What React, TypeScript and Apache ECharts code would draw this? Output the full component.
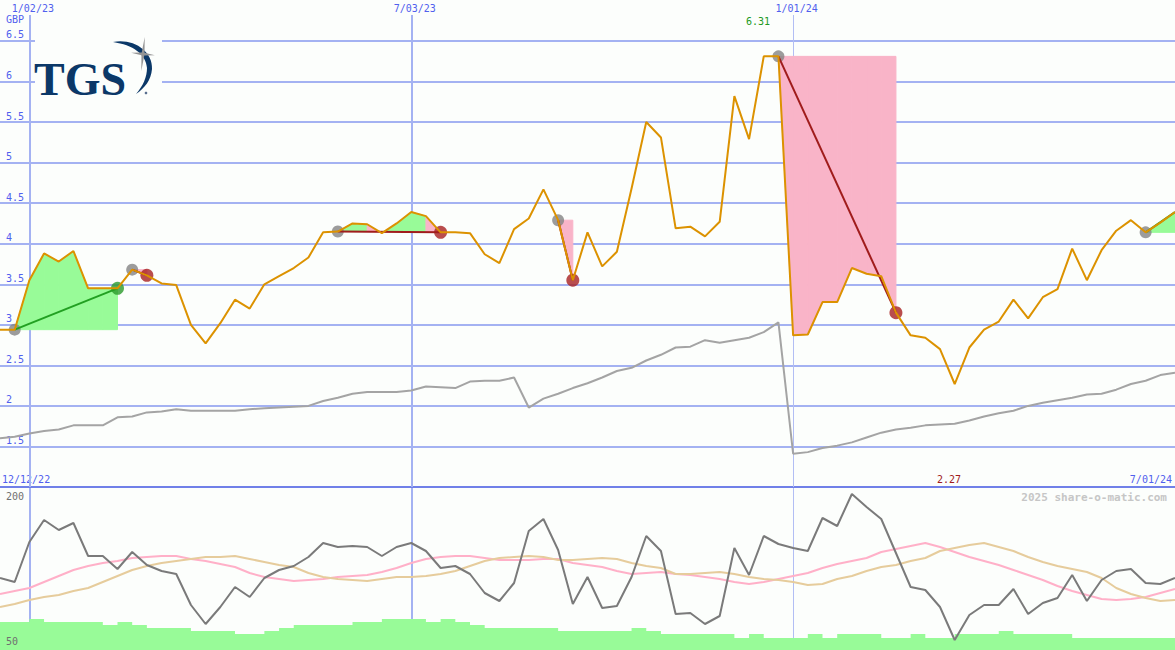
import React, { useEffect, useRef } from "react";
import * as echarts from "echarts";

// ---------- data ----------
const startDate = Date.UTC(2022, 11, 19);
const weekCount = 81;
const dates: string[] = Array.from({ length: weekCount }, (_, i) => {
  const d = new Date(startDate + i * 7 * 86400000);
  return `${d.getUTCMonth() + 1}/${String(d.getUTCDate()).padStart(2, "0")}/${String(d.getUTCFullYear()).slice(2)}`;
});
const topLabelIdx = [2, 28, 54];

const price = [
  2.94, 2.94, 3.55, 3.88, 3.78, 3.91, 3.45, 3.45, 3.45, 3.68,
  3.61, 3.51, 3.49, 3.0, 2.77, 3.02, 3.31, 3.2, 3.5, 3.6,
  3.7, 3.83, 4.14, 4.15, 4.25, 4.24, 4.13, 4.25, 4.39, 4.34,
  4.14, 4.14, 4.13, 3.87, 3.76, 4.18, 4.31, 4.67, 4.29, 3.55,
  4.14, 3.72, 3.9, 4.68, 5.5, 5.31, 4.19, 4.21, 4.09, 4.27,
  5.82, 5.29, 6.31, 6.31, 2.87, 2.88, 3.28, 3.28, 3.7, 3.63,
  3.6, 3.15, 2.87, 2.84, 2.7, 2.27, 2.72, 2.94, 3.04, 3.31,
  3.08, 3.34, 3.44, 3.94, 3.55, 3.92, 4.16, 4.29, 4.14, 4.26,
  4.39,
];

const benchmark = [
  1.6, 1.62, 1.66, 1.69, 1.71, 1.76, 1.76, 1.76, 1.86, 1.87,
  1.92, 1.93, 1.96, 1.94, 1.94, 1.94, 1.94, 1.96, 1.97, 1.98,
  1.99, 2.0, 2.06, 2.1, 2.15, 2.17, 2.17, 2.17, 2.19, 2.24,
  2.23, 2.22, 2.3, 2.31, 2.31, 2.35, 1.98, 2.09, 2.15, 2.22,
  2.28, 2.35, 2.43, 2.47, 2.56, 2.63, 2.72, 2.73, 2.81, 2.78,
  2.81, 2.84, 2.91, 3.03, 1.41, 1.43, 1.48, 1.51, 1.55, 1.61,
  1.67, 1.71, 1.73, 1.76, 1.77, 1.78, 1.82, 1.87, 1.91, 1.94,
  2.0, 2.04, 2.07, 2.1, 2.14, 2.15, 2.2, 2.27, 2.31, 2.38,
  2.41,
];

const oscillator = [
  112, 108, 148, 170, 160, 167, 134, 134, 121, 138,
  125, 119, 116, 85, 66, 83, 103, 93, 112, 120,
  124, 133, 147, 143, 144, 143, 134, 143, 147, 139,
  122, 124, 116, 97, 89, 107, 159, 171, 140, 86,
  113, 82, 84, 113, 154, 139, 76, 77, 66, 74,
  142, 115, 154, 146, 142, 139, 172, 164, 196, 183,
  171, 137, 103, 100, 83, 50, 75, 85, 85, 101,
  76, 87, 92, 115, 89, 110, 119, 121, 107, 106,
  112,
];

const pinkAverage = [
  96, 99, 102, 108, 114, 120, 124, 127, 129, 132,
  133, 134, 134, 131, 129, 126, 123, 117, 113, 111,
  109, 110, 111, 113, 114, 115, 118, 122, 127, 131,
  133, 134, 134, 132, 130, 130, 130, 131, 131, 127,
  125, 123, 119, 116, 117, 118, 116, 115, 113, 111,
  108, 106, 108, 111, 114, 117, 122, 126, 129, 132,
  138, 141, 144, 147, 143, 138, 133, 129, 125, 120,
  115, 110, 104, 99, 95, 91, 90, 91, 93, 97,
  101,
];

const tanAverage = [
  83, 86, 90, 93, 95, 99, 102, 108, 114, 120,
  124, 127, 129, 131, 133, 133, 134, 131, 128, 125,
  123, 117, 113, 111, 110, 109, 111, 113, 113, 114,
  116, 119, 124, 129, 132, 133, 134, 133, 130, 130,
  131, 132, 131, 127, 124, 122, 116, 116, 117, 118,
  116, 113, 111, 110, 108, 105, 106, 111, 114, 119,
  123, 125, 129, 132, 139, 142, 145, 147, 143, 139,
  133, 128, 124, 121, 118, 112, 102, 96, 92, 89,
  90,
];

const volume = [
  68, 68, 71, 68, 68, 68, 68, 65, 68, 65,
  62, 62, 62, 59, 59, 59, 56, 56, 59, 62,
  65, 65, 65, 65, 68, 68, 71, 71, 71, 68,
  71, 68, 65, 62, 62, 62, 62, 62, 59, 59,
  59, 59, 59, 62, 59, 56, 56, 56, 56, 56,
  52, 56, 52, 52, 52, 56, 52, 56, 56, 56,
  52, 52, 56, 52, 52, 56, 56, 56, 59, 56,
  56, 56, 56, 52, 52, 52, 52, 52, 52, 52,
  52,
];

const eventStart = [1, 9, 23, 38, 53, 78];
const eventEnd = [8, 10, 30, 39, 61, 80];
const eventClosed = [true, true, true, true, true, false];

const gridLevels = [1.5, 2, 2.5, 3, 3.5, 4, 4.5, 5, 5.5, 6, 6.5];
const currencyLabel = "GBP";
const maxLabel = "6.31";
const minLabel = "2.27";
const rangeLabels = ["12/12/22", "7/01/24"];
const lowerLabels = ["200", "50"];
const creditLabel = "2025 share-o-matic.com";

// ---------- styles ----------
const BG = "#fcfefc";
const BLUE_TEXT = "#5060ee";
const GRID = "#a4b2f2";
const MONO = '"DejaVu Sans Mono", monospace';
const NAVY = "#0b3868";
const GAIN = "#98fb98";
const LOSS = "#f9b4c8";

echarts.graphic.registerShape(
  "tgsArc",
  echarts.graphic.extendPath(
    "M113 42 C133 38 153 51 152 69 C151 80 145 88 136 94 C143 86 147 77 147 68 C146 54 133 45 113 42 Z",
    {}
  )
);

function starPoints(cx: number, cy: number, rOut: number[], rIn: number): number[][] {
  const pts: number[][] = [];
  for (let i = 0; i < 8; i++) {
    const ang = -Math.PI / 2 + (i * Math.PI) / 4 + 0.1;
    const r = i % 2 === 0 ? rOut[i / 2] : rIn;
    pts.push([cx + r * Math.cos(ang), cy + r * Math.sin(ang)]);
  }
  return pts;
}

function buildOption() {
  const fillSegments: number[][] = [];
  eventStart.forEach((s, n) => {
    const e = eventEnd[n];
    const level = price[s];
    for (let i = s; i < e; i++) {
      fillSegments.push([i, i + 1, price[i], price[i + 1], level, price[i + 1] >= level ? 1 : 0]);
    }
  });

  const trendSeries = eventStart.map((s, n) => {
    const e = eventEnd[n];
    const gain = price[e] >= price[s];
    return {
      type: "line",
      xAxisIndex: 0,
      yAxisIndex: 0,
      data: [[s, price[s]], [e, price[e]]],
      symbol: "none",
      lineStyle: { color: gain ? "#22a022" : "#a01c1c", width: 2 },
      z: 5,
      silent: true,
    };
  });

  const endDots = eventEnd
    .map((e, n) => ({ e, n }))
    .filter(({ n }) => eventClosed[n])
    .map(({ e, n }) => ({
      value: [e, price[e]],
      itemStyle: { color: price[e] >= price[eventStart[n]] ? "#2a9a2a" : "#a82020" },
    }));

  const starPts = starPoints(143, 54, [17, 12, 17, 12], 2);

  const textBase = { fontFamily: MONO, fontSize: 10 };

  return {
    animation: false,
    backgroundColor: BG,
    grid: [
      { left: 0, right: 0, top: 15, height: 472 },
      { left: 0, right: 0, top: 488, height: 162 },
    ],
    xAxis: [
      {
        type: "category",
        gridIndex: 0,
        data: dates,
        boundaryGap: false,
        position: "top",
        axisLine: { show: false },
        axisTick: { show: false },
        splitLine: { show: false },
        axisLabel: {
          interval: (i: number) => topLabelIdx.includes(i),
          color: BLUE_TEXT,
          fontFamily: MONO,
          fontSize: 10,
          margin: 2,
          padding: [0, 0, 0, 7],
        },
      },
      {
        type: "category",
        gridIndex: 1,
        data: dates,
        boundaryGap: false,
        show: false,
      },
    ],
    yAxis: [
      { type: "value", gridIndex: 0, min: 1, max: 6.82, show: false, splitLine: { show: false } },
      { type: "value", gridIndex: 1, min: 40, max: 202, show: false, splitLine: { show: false } },
    ],
    graphic: [
      { type: "text", x: 6, y: 19, style: { ...textBase, text: currencyLabel, fill: BLUE_TEXT, verticalAlign: "middle" } },
      { type: "text", x: 758, y: 21, style: { ...textBase, text: maxLabel, fill: "#229922", align: "center", verticalAlign: "middle" } },
      { type: "text", x: 949, y: 479, style: { ...textBase, text: minLabel, fill: "#a01c1c", align: "center", verticalAlign: "middle" } },
      { type: "text", x: 2, y: 479, style: { ...textBase, text: rangeLabels[0], fill: BLUE_TEXT, verticalAlign: "middle" } },
      { type: "text", x: 1172, y: 479, style: { ...textBase, text: rangeLabels[1], fill: BLUE_TEXT, align: "right", verticalAlign: "middle" } },
      { type: "text", x: 6, y: 496, style: { ...textBase, text: lowerLabels[0], fill: "#707070", verticalAlign: "middle" } },
      { type: "text", x: 6, y: 641, z: 100, style: { ...textBase, text: lowerLabels[1], fill: "#707070", verticalAlign: "middle" } },
      {
        type: "text",
        x: 1167,
        y: 497,
        style: { text: creditLabel, fontFamily: MONO, fontSize: 11, fontWeight: "bold", fill: "#c6c6c6", align: "right", verticalAlign: "middle" },
      },
      { type: "rect", shape: { x: 35, y: 35, width: 127, height: 65 }, style: { fill: BG }, z: 50 },
      {
        type: "text",
        x: 34,
        y: 79,
        z: 51,
        style: { text: "TGS", font: 'bold 46px "Liberation Serif", serif', fill: NAVY, verticalAlign: "middle" },
      },
      { type: "tgsArc", x: 0, y: 0, z: 51, style: { fill: NAVY } },
      { type: "polygon", z: 52, shape: { points: starPts }, style: { fill: "#959595" } },
      { type: "circle", z: 51, shape: { cx: 146, cy: 93, r: 1.3 }, style: { fill: "#5a7090" } },
    ],
    series: [
      // main grid lines
      {
        type: "line",
        xAxisIndex: 0,
        yAxisIndex: 0,
        data: [],
        z: 1,
        silent: true,
        markLine: {
          silent: true,
          symbol: "none",
          animation: false,
          z: 1,
          data: [
            ...gridLevels.map((v) => ({
              yAxis: v,
              lineStyle: { color: GRID, width: 2, type: "solid" },
              label: {
                show: true,
                position: "insideStartTop",
                formatter: String(v),
                color: BLUE_TEXT,
                fontFamily: MONO,
                fontSize: 10,
                distance: [6, 1],
              },
            })),
            { yAxis: 1, lineStyle: { color: "#7080e8", width: 2, type: "solid" }, label: { show: false } },
            { xAxis: topLabelIdx[0], lineStyle: { color: GRID, width: 2, type: "solid" }, label: { show: false } },
            { xAxis: topLabelIdx[1], lineStyle: { color: GRID, width: 2, type: "solid" }, label: { show: false } },
            { xAxis: topLabelIdx[2], lineStyle: { color: "#b2bef4", width: 1, type: "solid" }, label: { show: false } },
          ],
        },
      },
      // gain / loss fills
      {
        type: "custom",
        xAxisIndex: 0,
        yAxisIndex: 0,
        z: 2,
        silent: true,
        data: fillSegments,
        encode: { x: [0, 1], y: [2, 3, 4] },
        renderItem: (_params: any, api: any) => {
          const a = api.coord([api.value(0), api.value(4)]);
          const b = api.coord([api.value(0), api.value(2)]);
          const c = api.coord([api.value(1), api.value(3)]);
          const d = api.coord([api.value(1), api.value(4)]);
          const col = api.value(5) ? GAIN : LOSS;
          return {
            type: "polygon",
            shape: { points: [a, b, c, d] },
            style: { fill: col, stroke: col, lineWidth: 1 },
          };
        },
      },
      // benchmark
      {
        type: "line",
        xAxisIndex: 0,
        yAxisIndex: 0,
        data: benchmark,
        symbol: "none",
        lineStyle: { color: "#a4a4a4", width: 2 },
        z: 3,
        silent: true,
      },
      // start dots
      {
        type: "scatter",
        xAxisIndex: 0,
        yAxisIndex: 0,
        data: eventStart.map((s) => [s, price[s]]),
        symbolSize: 12,
        itemStyle: { color: "#838383" },
        z: 4,
        silent: true,
      },
      // end dots
      {
        type: "scatter",
        xAxisIndex: 0,
        yAxisIndex: 0,
        data: endDots,
        symbolSize: 13,
        z: 4,
        silent: true,
      },
      ...trendSeries,
      // price
      {
        type: "line",
        xAxisIndex: 0,
        yAxisIndex: 0,
        data: price,
        symbol: "none",
        lineStyle: { color: "#dc9200", width: 2 },
        z: 6,
        silent: true,
      },
      // lower panel vertical lines
      {
        type: "line",
        xAxisIndex: 1,
        yAxisIndex: 1,
        data: [],
        z: 1,
        silent: true,
        markLine: {
          silent: true,
          symbol: "none",
          animation: false,
          z: 1,
          label: { show: false },
          data: [
            { xAxis: topLabelIdx[0], lineStyle: { color: GRID, width: 2, type: "solid" } },
            { xAxis: topLabelIdx[1], lineStyle: { color: GRID, width: 2, type: "solid" } },
            { xAxis: topLabelIdx[2], lineStyle: { color: "#b2bef4", width: 1, type: "solid" } },
          ],
        },
      },
      {
        type: "line",
        xAxisIndex: 1,
        yAxisIndex: 1,
        data: pinkAverage,
        symbol: "none",
        lineStyle: { color: "#ffb0c8", width: 2 },
        z: 2,
        silent: true,
      },
      {
        type: "line",
        xAxisIndex: 1,
        yAxisIndex: 1,
        data: tanAverage,
        symbol: "none",
        lineStyle: { color: "#e6cc9c", width: 2 },
        z: 2,
        silent: true,
      },
      {
        type: "line",
        xAxisIndex: 1,
        yAxisIndex: 1,
        data: volume,
        step: "end",
        symbol: "none",
        lineStyle: { width: 0, color: GAIN },
        areaStyle: { color: GAIN, opacity: 1, origin: "start" },
        z: 3,
        silent: true,
      },
      {
        type: "line",
        xAxisIndex: 1,
        yAxisIndex: 1,
        data: oscillator,
        symbol: "none",
        lineStyle: { color: "#7a7a7a", width: 2 },
        z: 4,
        silent: true,
      },
    ],
  };
}

export default function App() {
  const ref = useRef<HTMLDivElement>(null);
  useEffect(() => {
    document.body.style.margin = "0";
    if (!ref.current) return;
    const chart = echarts.init(ref.current, null, { renderer: "svg" });
    chart.setOption(buildOption() as any);
    return () => chart.dispose();
  }, []);
  return (
    <div
      ref={ref}
      style={{ position: "absolute", left: 0, top: 0, width: 1175, height: 650, background: BG }}
    />
  );
}
